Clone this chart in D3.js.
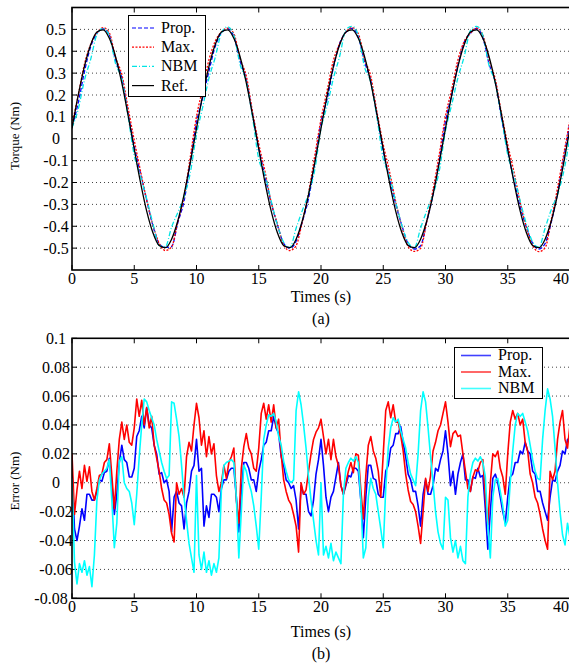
<!DOCTYPE html>
<html>
<head>
<meta charset="utf-8">
<script src="https://cdnjs.cloudflare.com/ajax/libs/d3/7.8.5/d3.min.js"></script>
<style>
body { margin: 0; background: #fff; }
text { font-family: "Liberation Serif", "Times New Roman", serif; fill: #000; }
</style>
</head>
<body>
<div id="chart"></div>
<script>
// ---- data (values in mNm) ----
// (a) torque, sampled every 0.5 s from 0 to 40 s
var refTorque = [
  47,199,331,430,488,498,459,375,255,109,-47,-199,-331,-430,-488,-498,-459,-375,-255,-109,
  47,199,331,430,488,498,459,375,255,109,-47,-199,-331,-430,-488,-498,-459,-375,-255,-109,
  47,199,331,430,488,498,459,375,255,109,-47,-199,-331,-430,-488,-498,-459,-375,-255,-109,
  47,199,331,430,488,498,459,375,255,109,-47,-199,-331,-430,-488,-498,-459,-375,-255,-109,
  47]
var propTorque = [
  55,164,307,420,482,502,474,359,279,118,-35,-158,-281,-398,-480,-497,-493,-384,-285,-108,
  75,188,309,421,484,503,467,355,271,111,-41,-172,-293,-394,-478,-500,-469,-379,-273,-112,
  75,184,327,436,486,505,465,351,265,106,-55,-181,-299,-397,-480,-504,-489,-377,-255,-97,
  81,201,335,441,482,504,462,342,259,94,-57,-189,-311,-405,-478,-504,-479,-380,-249,-88,
  77]
var maxTorque = [
  67,199,341,432,484,508,484,370,295,143,-7,-147,-281,-394,-478,-511,-494,-379,-265,-84,
  102,230,361,445,488,506,481,366,287,124,-23,-149,-290,-389,-486,-511,-489,-379,-247,-77,
  89,223,359,435,488,508,480,365,285,121,-27,-149,-287,-402,-493,-515,-501,-377,-233,-71,
  103,227,361,444,482,506,475,361,273,116,-27,-152,-291,-405,-488,-516,-499,-370,-225,-69,
  87]
var nbmTorque = [
  50,135,268,363,476,505,471,343,273,104,-76,-170,-275,-388,-488,-493,-403,-337,-265,-156,
  20,145,277,371,483,512,473,339,263,98,-93,-164,-285,-393,-473,-497,-409,-328,-251,-142,
  47,152,277,377,498,514,473,327,258,95,-92,-168,-289,-397,-474,-498,-409,-328,-255,-147,
  37,156,279,375,494,514,473,334,257,98,-73,-168,-285,-391,-472,-496,-409,-323,-255,-149,
  9]

// (b) error, sampled every 0.2 s from 0 to 40 s
var errProp = [
  8,-32,-40,-30,-18,-26,-8,-8,-12,-12,
  -6,2,1,7,8,17,0,-22,-8,14,
  26,16,14,4,4,10,32,36,46,38,
  52,40,38,26,20,6,7,0,2,-6,
  -34,-10,-6,-14,-16,-32,-14,-6,8,12,
  30,8,10,-30,-16,-24,-8,-8,-10,-20,
  -4,2,2,8,10,10,-10,-34,-6,14,
  14,10,2,2,-6,8,16,26,28,36,
  36,46,38,34,18,12,2,0,-4,-2,
  -12,-32,-2,-8,-8,-20,-23,-12,6,16,
  30,12,-10,-20,-10,-6,4,14,-2,-8,
  -2,5,4,10,10,8,-12,-38,-10,12,
  12,3,2,-8,-10,-10,8,12,24,26,
  34,34,39,28,18,6,2,-6,-6,-16,
  -30,-8,2,-8,-8,-2,10,8,16,22,
  36,20,-2,8,-8,6,14,20,2,2,
  -6,4,3,10,4,5,-18,-46,-20,3,
  6,0,-10,-20,-28,-10,4,6,14,14,
  22,20,28,22,20,8,6,-6,-6,-14,
  -20,-26,-10,2,1,8,12,22,20,30,
  30]
var errMax = [
  20,-22,-5,8,-4,12,1,11,-6,-12,
  -4,5,6,14,16,27,5,-18,8,30,
  42,30,40,28,26,38,58,46,57,40,
  52,38,46,26,17,8,-4,-12,-14,-22,
  -35,-41,0,-8,-4,-10,18,28,22,40,
  55,45,26,36,18,32,20,27,5,-6,
  0,12,3,14,18,24,-12,-28,10,25,
  34,24,20,10,8,24,48,55,44,54,
  42,54,38,44,20,2,-6,-12,-15,-22,
  -30,-48,0,-8,-5,8,20,30,35,38,
  44,32,20,30,16,30,18,12,-2,-8,
  0,8,14,7,20,19,-5,-25,5,26,
  32,22,17,8,-10,20,50,56,45,54,
  42,42,33,22,6,-5,-13,-15,-20,-30,
  -42,-20,3,-6,5,22,28,36,40,48,
  56,42,25,34,36,32,33,20,8,-4,
  -6,4,9,8,14,16,-10,-29,0,20,
  18,22,10,4,-8,20,42,50,44,48,
  40,44,28,22,6,0,-10,-14,-22,-32,
  -40,-46,8,2,8,30,42,50,30,24,
  40]
var errNbm = [
  3,-55,-70,-56,-62,-54,-64,-58,-72,-50,
  -12,2,6,8,10,16,-12,-45,-28,15,
  18,0,-4,-6,-14,-29,-8,18,40,58,
  56,50,45,40,30,22,14,8,3,5,
  56,55,44,32,12,-10,-26,-42,-52,-62,
  5,-50,-60,-48,-62,-54,-64,-56,-62,-52,
  -5,12,14,15,16,14,-10,-52,-20,12,
  8,0,-6,-16,-30,-46,-10,30,40,47,
  46,48,42,32,26,15,8,2,0,2,
  50,63,54,40,24,4,-12,-26,-40,-50,
  0,-50,-44,-52,-42,-54,-48,-52,-56,-8,
  10,14,17,15,18,14,-12,-52,-45,-10,
  3,-4,-8,-20,-32,-45,-4,24,38,45,
  42,44,36,30,24,14,6,2,-2,20,
  50,63,56,38,18,0,-20,-34,-42,-46,
  -10,-12,-38,-48,-40,-52,-44,-54,-56,-10,
  6,14,17,15,18,14,4,-30,-52,-10,
  2,3,-6,-16,-30,-26,0,22,40,48,
  46,48,42,36,26,16,8,3,2,30,
  50,65,58,46,24,0,-20,-36,-43,-28,
  -38]

var xTicks = [0, 5, 10, 15, 20, 25, 30, 35, 40]
var xTickLabels = ['0', '5', '10', '15', '20', '25', '30', '35', '40']
var torqueTicks = [0.5, 0.4, 0.3, 0.2, 0.1, 0, -0.1, -0.2, -0.3, -0.4, -0.5]
var torqueTickLabels = ['0.5', '0.4', '0.3', '0.2', '0.1', '0', '-0.1', '-0.2', '-0.3', '-0.4', '-0.5']
var errTicks = [0.1, 0.08, 0.06, 0.04, 0.02, 0, -0.02, -0.04, -0.06, -0.08]
var errTickLabels = ['0.1', '0.08', '0.06', '0.04', '0.02', '0', '-0.02', '-0.04', '-0.06', '-0.08']

var tTop = d3.range(refTorque.length).map(i => i * 0.5)
var tBot = d3.range(errProp.length).map(i => i * 0.2)

// ---- layout ----
var W = 569, H = 665
var svg = d3.select('#chart').append('svg').attr('width', W).attr('height', H)

var x = d3.scaleLinear().domain([0, 40]).range([72, 570])
var yTop = d3.scaleLinear().domain([-0.6, 0.6]).range([270, 7.5])
var yBot = d3.scaleLinear().domain([-0.08, 0.1]).range([598.3, 338.3])

function panel(y, ticks, labels, id, yTitle, yTitleCy, xTitleY, caption, capY) {
  var g = svg.append('g')
  var r = y.range()
  g.append('clipPath').attr('id', id).append('rect')
    .attr('x', x(0)).attr('y', r[1]).attr('width', x(40) - x(0)).attr('height', r[0] - r[1])

  // dotted horizontal grid
  g.selectAll('.grid').data(ticks.filter(d => y(d) > r[1] + 1 && y(d) < r[0] - 1)).enter()
    .append('line')
    .attr('x1', x(0)).attr('x2', x(40))
    .attr('y1', d => y(d)).attr('y2', d => y(d))
    .attr('stroke', '#444').attr('stroke-width', 1).attr('stroke-dasharray', '1,3')

  // tick labels (the lowest one of (b) sits left of the x "0", as in the figure)
  g.selectAll('.yl').data(ticks).enter().append('text')
    .attr('x', (d, i) => (y(d) > r[0] - 1) ? 51 : 56).attr('y', d => y(d) + 5.5)
    .attr('text-anchor', 'middle').style('font-size', '16px')
    .text((d, i) => labels[i])
  g.selectAll('.xl').data(xTicks).enter().append('text')
    .attr('x', d => d === 40 ? 569 : x(d)).attr('y', r[0] + 14)
    .attr('text-anchor', d => d === 40 ? 'end' : 'middle').style('font-size', '16px')
    .text((d, i) => xTickLabels[i])

  // ticks (inward, bottom and top, left)
  g.selectAll('.xt').data(xTicks).enter().append('path')
    .attr('d', d => 'M' + x(d) + ',' + r[0] + 'v-5M' + x(d) + ',' + r[1] + 'v5')
    .attr('stroke', '#000').attr('stroke-width', 1)
  g.selectAll('.yt').data(ticks).enter().append('path')
    .attr('d', d => 'M' + x(0) + ',' + y(d) + 'h5')
    .attr('stroke', '#000').attr('stroke-width', 1)

  g.append('text').attr('x', 321).attr('y', xTitleY).attr('text-anchor', 'middle')
    .style('font-size', '16px').text('Times (s)')
  g.append('text').attr('x', 321).attr('y', capY).attr('text-anchor', 'middle')
    .style('font-size', '16px').text(caption)
  g.append('text').attr('transform', 'translate(19,' + yTitleCy + ') rotate(-90)')
    .attr('text-anchor', 'middle').style('font-size', '13px').text(yTitle)
  return g
}

function frame(g, y) {
  var r = y.range()
  g.append('rect').attr('x', x(0)).attr('y', r[1]).attr('width', x(40) - x(0)).attr('height', r[0] - r[1])
    .attr('fill', 'none').attr('stroke', '#000').attr('stroke-width', 1.6)
}

// ---- (a) torque ----
var gA = panel(yTop, torqueTicks, torqueTickLabels, 'clipA', 'Torque (Nm)', 136, 302, '(a)', 324)
var lineA = d3.line().x((d, i) => x(tTop[i])).y(d => yTop(d / 1000)).curve(d3.curveMonotoneX)
var topSeries = [
  {name: 'Prop.', data: propTorque, color: '#0000ff', dash: '4,2'},
  {name: 'Max.', data: maxTorque, color: '#ff0000', dash: '2,1.5'},
  {name: 'NBM', data: nbmTorque, color: '#00e5e5', dash: '5,2,1,2'},
  {name: 'Ref.', data: refTorque, color: '#000000', dash: null}
]
gA.append('g').attr('clip-path', 'url(#clipA)').selectAll('path').data(topSeries).enter()
  .append('path')
  .attr('d', d => lineA(d.data))
  .attr('fill', 'none').attr('stroke', d => d.color).attr('stroke-width', 1.3)
  .attr('stroke-dasharray', d => d.dash)
frame(gA, yTop)

var legA = gA.append('g')
legA.append('rect').attr('x', 128.5).attr('y', 15.5).attr('width', 77).attr('height', 81)
  .attr('fill', '#fff').attr('stroke', '#000').attr('stroke-width', 1)
topSeries.forEach(function (s, i) {
  var by = 33 + i * 19.2
  legA.append('line').attr('x1', 132).attr('x2', 154).attr('y1', by - 5).attr('y2', by - 5)
    .attr('stroke', s.color).attr('stroke-width', 1.2).attr('stroke-dasharray', s.dash)
  legA.append('text').attr('x', 161).attr('y', by).style('font-size', '16px').text(s.name)
})

// ---- (b) error ----
var gB = panel(yBot, errTicks, errTickLabels, 'clipB', 'Error (Nm)', 481, 637, '(b)', 659)
var lineB = d3.line().x((d, i) => x(tBot[i])).y(d => yBot(d / 1000))
var botSeries = [
  {name: 'Prop.', data: errProp, color: '#0000ff'},
  {name: 'Max.', data: errMax, color: '#ff0000'},
  {name: 'NBM', data: errNbm, color: '#00ffff'}
]
gB.append('g').attr('clip-path', 'url(#clipB)').selectAll('path').data(botSeries).enter()
  .append('path')
  .attr('d', d => lineB(d.data))
  .attr('fill', 'none').attr('stroke', d => d.color).attr('stroke-width', 1.6)
  .attr('stroke-linejoin', 'round')
frame(gB, yBot)

var legB = gB.append('g')
legB.append('rect').attr('x', 454.5).attr('y', 347.5).attr('width', 88).attr('height', 51)
  .attr('fill', '#fff').attr('stroke', '#000').attr('stroke-width', 1)
botSeries.forEach(function (s, i) {
  var by = 360 + i * 16.5
  legB.append('line').attr('x1', 461).attr('x2', 491).attr('y1', by - 4.5).attr('y2', by - 4.5)
    .attr('stroke', s.color).attr('stroke-width', 1.6).attr('stroke-opacity', 0.75)
  legB.append('text').attr('x', 498).attr('y', by).style('font-size', '16px').text(s.name)
})
</script>
</body>
</html>
